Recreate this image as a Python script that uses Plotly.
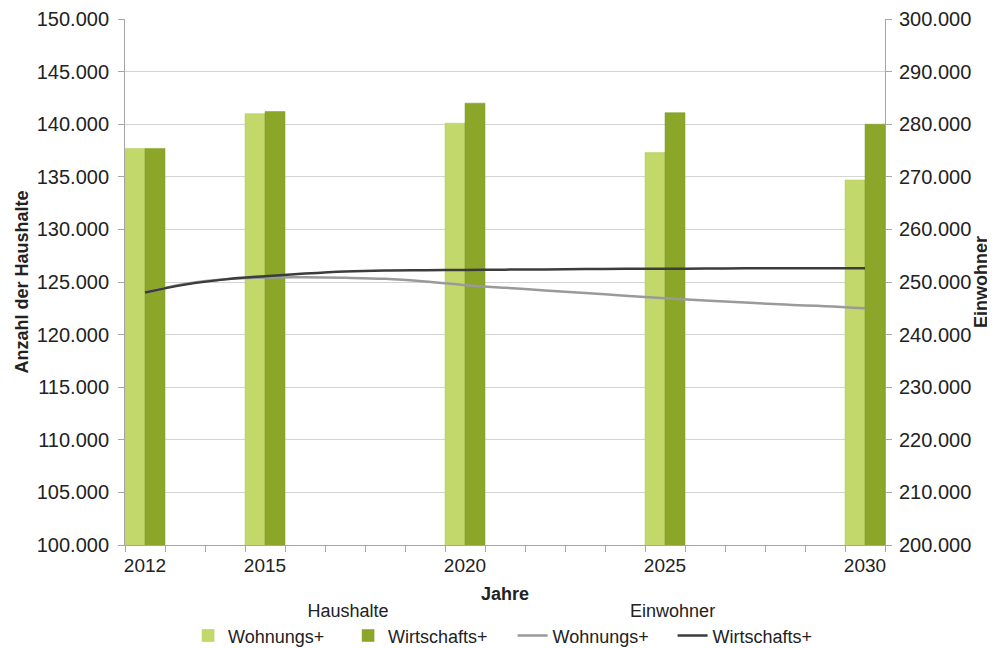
import plotly.graph_objects as go

# ---- data ----
bar_years = [2012, 2015, 2020, 2025, 2030]
hh_wohnungs = [137700, 141000, 140100, 137300, 134700]
hh_wirtschafts = [137700, 141200, 142000, 141100, 140000]

line_years = list(range(2012, 2031))
ew_wohnungs = [248000, 249600, 250500, 250850, 250900, 250800, 250600, 250100, 249400,
               248900, 248400, 247900, 247400, 246900, 246500, 246100, 245700, 245400, 245000]
ew_wirtschafts = [248000, 249500, 250500, 251100, 251600, 252000, 252200, 252250, 252300,
                  252350, 252400, 252450, 252500, 252500, 252550, 252600, 252600, 252600, 252600]

tick_years = [2012, 2015, 2020, 2025, 2030]

LIGHT = "#C3D86B"
DARK = "#8BA629"
FONT = "Liberation Sans, Arial, sans-serif"

fig = go.Figure()
fig.add_trace(go.Bar(x=bar_years, y=hh_wohnungs, name="Wohnungs+", width=0.5, offset=-0.5,
                     marker=dict(color=LIGHT, line=dict(color="#B0C860", width=0.5)),
                     legend="legend", yaxis="y"))
fig.add_trace(go.Bar(x=bar_years, y=hh_wirtschafts, name="Wirtschafts+", width=0.5, offset=0,
                     marker=dict(color=DARK, line=dict(color="#7F9A24", width=0.5)),
                     legend="legend", yaxis="y"))
fig.add_trace(go.Scatter(x=line_years, y=ew_wohnungs, name="Wohnungs+", mode="lines",
                         line=dict(color="#9A9A9A", width=2.5, shape="spline"),
                         legend="legend2", yaxis="y2"))
fig.add_trace(go.Scatter(x=line_years, y=ew_wirtschafts, name="Wirtschafts+", mode="lines",
                         line=dict(color="#3C3C3C", width=2.5, shape="spline"),
                         legend="legend2", yaxis="y2"))

fig.update_layout(
    width=987, height=640,
    margin=dict(l=117, r=110, t=11, b=103, autoexpand=False),
    paper_bgcolor="white", plot_bgcolor="white",
    separators=",.",
    font=dict(family=FONT, size=18, color="#222222"),
    barmode="overlay",
    xaxis=dict(
        range=[2011.5, 2030.5], tickmode="array", tickvals=tick_years,
        ticktext=[str(y) for y in tick_years], ticks="", showgrid=False,
        showline=True, linecolor="#A6A6A6", linewidth=1,
        minor=dict(ticks="outside", tickmode="linear", tick0=2011.5, dtick=1,
                   ticklen=6, tickcolor="#A6A6A6", showgrid=False),
        title=dict(text="<b>Jahre</b>", standoff=12, font=dict(size=18)),
        tickfont=dict(size=19), ticklabelstandoff=3, zeroline=False, automargin=False,
    ),
    yaxis=dict(
        range=[100000, 150000], dtick=5000, tick0=100000, tickformat=",d",
        showgrid=True, gridcolor="#D4D4D4", gridwidth=1,
        showline=True, linecolor="#A6A6A6", linewidth=1,
        ticks="outside", ticklen=6, tickcolor="#A6A6A6",
        title=dict(text="<b>Anzahl der Haushalte</b>", standoff=3, font=dict(size=18)),
        tickfont=dict(size=20), ticklabelstandoff=5, zeroline=False, automargin=False,
    ),
    yaxis2=dict(
        range=[200000, 300000], dtick=10000, tick0=200000, tickformat=",d",
        overlaying="y", side="right", showgrid=False,
        showline=True, linecolor="#A6A6A6", linewidth=1,
        ticks="outside", ticklen=6, tickcolor="#A6A6A6",
        title=dict(text="<b>Einwohner</b>", standoff=1, font=dict(size=18)),
        tickfont=dict(size=20), ticklabelstandoff=3, zeroline=False, automargin=False,
    ),
    legend=dict(
        orientation="h", x=0.083, xanchor="left", y=-0.093, yanchor="top",
        title=dict(text="Haushalte", side="top center", font=dict(size=18)),
        font=dict(size=18), bgcolor="rgba(0,0,0,0)", traceorder="normal",
        itemwidth=30, tracegroupgap=0, entrywidth=115, entrywidthmode="pixels",
    ),
    legend2=dict(
        orientation="h", x=0.510, xanchor="left", y=-0.093, yanchor="top",
        title=dict(text="Einwohner", side="top center", font=dict(size=18)),
        font=dict(size=18), bgcolor="rgba(0,0,0,0)", traceorder="normal",
        itemwidth=30, tracegroupgap=0, entrywidth=115, entrywidthmode="pixels",
    ),
    showlegend=True,
)

fig.write_html("out.html")
